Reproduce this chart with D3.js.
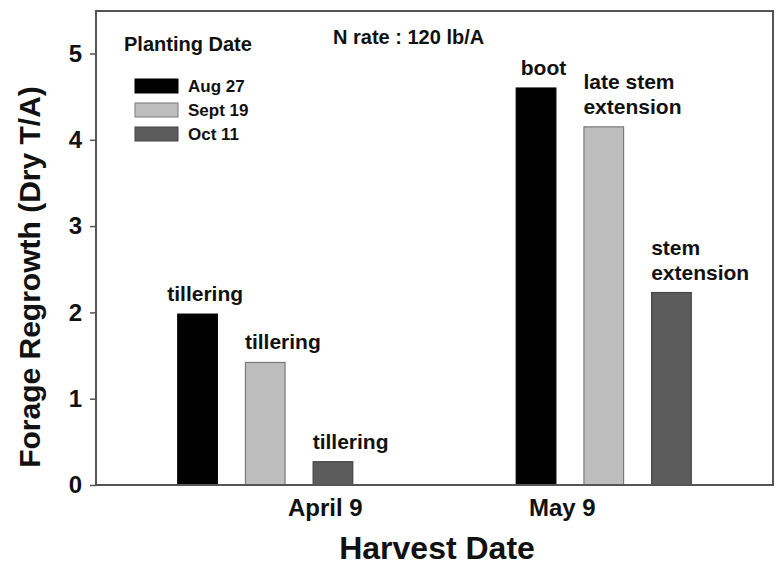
<!DOCTYPE html>
<html>
<head>
<meta charset="utf-8">
<title>Forage Regrowth</title>
<script src="https://cdn.jsdelivr.net/npm/d3@7"></script>
<style>
  body { margin: 0; background: #fff; }
  text { font-family: "Liberation Sans", Arial, sans-serif; font-weight: bold; fill: #111; }
</style>
</head>
<body>
<script>
// data
var harvestDates = ["April 9", "May 9"];
var plantingDates = ["Aug 27", "Sept 19", "Oct 11"];
var april9 = [1.98, 1.42, 0.27];
var may9 = [4.60, 4.15, 2.23];
var stages = [
  [["tillering"], ["tillering"], ["tillering"]],
  [["boot"], ["late stem", "extension"], ["stem", "extension"]]
];
var yTicks = [0, 1, 2, 3, 4, 5];

var values = [april9, may9];
var fills = ["#000000", "#bdbdbd", "#5c5c5c"];
var strokes = ["#000000", "#7a7a7a", "#444444"];

var w = 778, h = 569;
var pLeft = 96, pRight = 773, pTop = 11, pBottom = 485;

var svg = d3.select("body").append("svg")
  .attr("width", w)
  .attr("height", h);

var yScale = d3.scaleLinear()
  .domain([0, 5])
  .range([pBottom, 53.5]);

var x0 = d3.scaleBand()
  .domain(harvestDates)
  .range([pLeft, pRight])
  .paddingInner(0.4)
  .paddingOuter(0.2);

var x1 = d3.scaleBand()
  .domain(plantingDates)
  .range([0, x0.bandwidth()])
  .paddingInner(0.4)
  .paddingOuter(0.2);

// the date labels sit off the group centres in the original
var labelX = d3.scalePoint()
  .domain(harvestDates)
  .range([pLeft + 0.338 * (pRight - pLeft), pLeft + 0.688 * (pRight - pLeft)]);

// bars
harvestDates.forEach(function(hd, i) {
  var g = svg.append("g").attr("transform", "translate(" + x0(hd) + ",0)");
  plantingDates.forEach(function(pd, j) {
    g.append("rect")
      .attr("x", x1(pd) + 0.5)
      .attr("y", yScale(values[i][j]))
      .attr("width", x1.bandwidth() - 1)
      .attr("height", yScale(0) - yScale(values[i][j]))
      .attr("fill", fills[j])
      .attr("stroke", strokes[j])
      .attr("stroke-width", 1.2);

    // growth stage label
    var lines = stages[i][j];
    var lx = x1(pd) + (i == 0 && j == 0 ? -10 : 0) + (i == 1 && j == 0 ? 5 : 0);
    var t = g.append("text")
      .attr("x", lx)
      .attr("y", yScale(values[i][j]) - 13 - (lines.length - 1) * 25)
      .attr("font-size", "21px");
    lines.forEach(function(s, k) {
      t.append("tspan").attr("x", lx).attr("dy", k == 0 ? 0 : 25).text(s);
    });
  });
});

// y axis
var yAxis = d3.axisLeft(yScale)
  .tickValues(yTicks)
  .tickFormat(d3.format("d"))
  .tickSize(6)
  .tickSizeOuter(0)
  .tickPadding(8);

var ya = svg.append("g")
  .attr("transform", "translate(" + pLeft + ",0)")
  .call(yAxis);
ya.select(".domain").remove();
ya.selectAll(".tick line").attr("stroke", "#555").attr("stroke-width", 1.5);
ya.selectAll(".tick text")
  .attr("font-size", "24px")
  .attr("font-family", "Liberation Sans, Arial, sans-serif")
  .attr("font-weight", "bold")
  .attr("fill", "#111");

// x axis (labels only)
var xAxis = d3.axisBottom(labelX).tickSize(0).tickPadding(14);
var xa = svg.append("g")
  .attr("transform", "translate(0," + pBottom + ")")
  .call(xAxis);
xa.select(".domain").remove();
xa.selectAll(".tick text")
  .attr("font-size", "24px")
  .attr("font-family", "Liberation Sans, Arial, sans-serif")
  .attr("font-weight", "bold")
  .attr("fill", "#111");

// frame
svg.append("rect")
  .attr("x", pLeft)
  .attr("y", pTop)
  .attr("width", pRight - pLeft)
  .attr("height", pBottom - pTop)
  .attr("fill", "none")
  .attr("stroke", "#555")
  .attr("stroke-width", 2);

// titles
svg.append("text")
  .attr("x", 437)
  .attr("y", 559)
  .attr("text-anchor", "middle")
  .attr("font-size", "32px")
  .text("Harvest Date");

svg.append("text")
  .attr("transform", "translate(40,277) rotate(-90)")
  .attr("text-anchor", "middle")
  .attr("font-size", "30px")
  .text("Forage Regrowth (Dry T/A)");

svg.append("text")
  .attr("x", 333)
  .attr("y", 44)
  .attr("font-size", "20px")
  .text("N rate : 120 lb/A");

// legend
svg.append("text")
  .attr("x", 124)
  .attr("y", 51)
  .attr("font-size", "20px")
  .text("Planting Date");

plantingDates.forEach(function(pd, j) {
  svg.append("rect")
    .attr("x", 135)
    .attr("y", 79 + j * 24)
    .attr("width", 43)
    .attr("height", 14)
    .attr("fill", fills[j])
    .attr("stroke", strokes[j])
    .attr("stroke-width", 1);
  svg.append("text")
    .attr("x", 188)
    .attr("y", 92 + j * 24)
    .attr("font-size", "17px")
    .text(pd);
});
</script>
</body>
</html>
